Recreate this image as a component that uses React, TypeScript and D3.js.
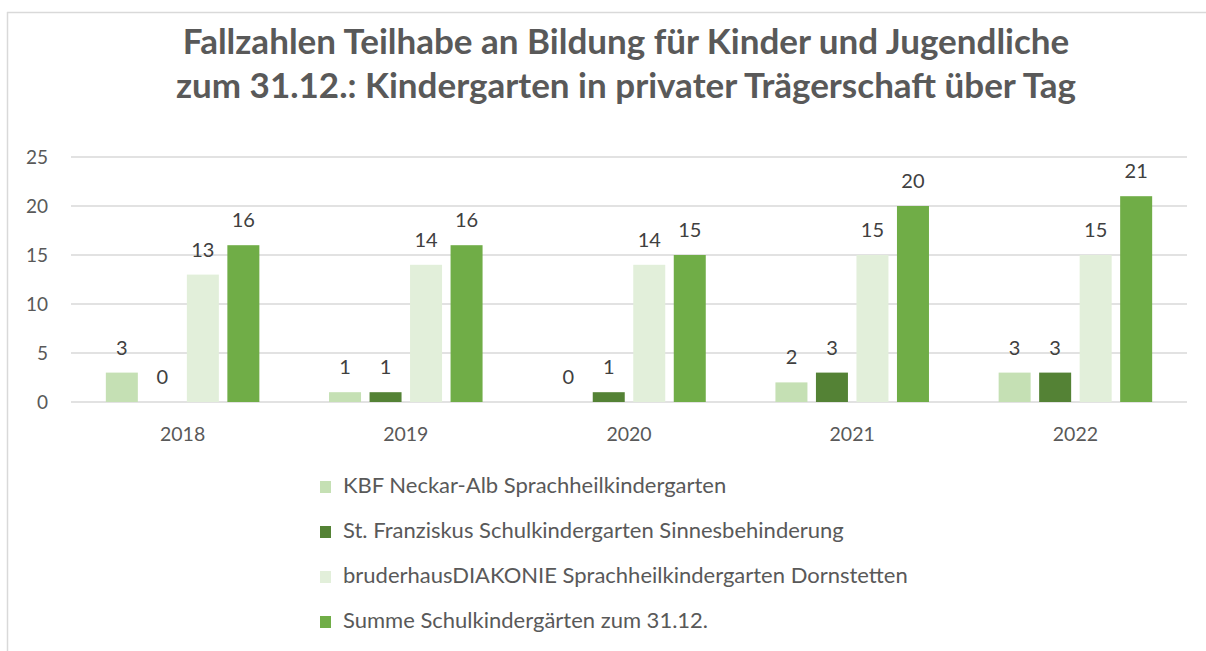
import { useEffect, useRef } from "react"
import * as d3 from "d3"

const years = ["2018", "2019", "2020", "2021", "2022"]
const seriesNames = [
  "KBF Neckar-Alb Sprachheilkindergarten",
  "St. Franziskus Schulkindergarten Sinnesbehinderung",
  "bruderhausDIAKONIE Sprachheilkindergarten Dornstetten",
  "Summe Schulkindergärten zum 31.12.",
]
const kbf = [3, 1, 0, 2, 3]
const franziskus = [0, 1, 1, 3, 3]
const bruderhaus = [13, 14, 14, 15, 15]
const summe = [16, 16, 15, 20, 21]
const yTicks = [0, 5, 10, 15, 20, 25]
const colors = ["#C5E0B4", "#548235", "#E2EFDA", "#70AD47"]
const titleLines = [
  "Fallzahlen Teilhabe an Bildung für Kinder und Jugendliche",
  "zum 31.12.: Kindergarten in privater Trägerschaft über Tag",
]

const W = 1206
const H = 651
const font = "Lato, 'Noto Sans', sans-serif"
const textColor = "#595959"

const App = () => {
  const ref = useRef<SVGSVGElement>(null)

  useEffect(() => {
    const svg = d3.select(ref.current)
    svg.selectAll("*").remove()

    const series = [kbf, franziskus, bruderhaus, summe]

    // frame of the chart
    svg.append("line").attr("x1", 7.5).attr("x2", 7.5).attr("y1", 12).attr("y2", H)
      .attr("stroke", "#D9D9D9").attr("stroke-width", 1.5)
    svg.append("line").attr("x1", 7).attr("x2", W).attr("y1", 12.5).attr("y2", 12.5)
      .attr("stroke", "#D9D9D9").attr("stroke-width", 1.5)

    svg.append("g").selectAll("text").data(titleLines).join("text")
      .attr("x", 626).attr("y", (d, i) => 54 + i * 44)
      .attr("text-anchor", "middle")
      .attr("font-family", font).attr("font-weight", "bold")
      .attr("font-size", 35).attr("fill", textColor)
      .text(d => d)

    const left = 71, right = 1187, top = 157, bottom = 402
    const x0 = d3.scaleBand().domain(years).range([left, right])
    const x1 = d3.scaleBand<number>().domain([0, 1, 2, 3])
      .range([0, x0.bandwidth()]).paddingInner(0.21).paddingOuter(0.86)
    const y = d3.scaleLinear().domain([0, 25]).range([bottom, top])

    svg.append("g").selectAll("line").data(yTicks).join("line")
      .attr("x1", left).attr("x2", right)
      .attr("y1", d => y(d)).attr("y2", d => y(d))
      .attr("stroke", "#D9D9D9").attr("stroke-width", 1.5)

    svg.append("g").selectAll("text").data(yTicks).join("text")
      .attr("x", 48).attr("y", d => y(d) + 7)
      .attr("text-anchor", "end")
      .attr("font-family", font).attr("font-size", 19).attr("fill", textColor)
      .text(d => d)

    svg.append("g").selectAll("text").data(years).join("text")
      .attr("x", d => x0(d)! + x0.bandwidth() / 2).attr("y", 441)
      .attr("text-anchor", "middle")
      .attr("font-family", font).attr("font-size", 19.5).attr("fill", textColor)
      .text(d => d)

    const groups = svg.append("g").selectAll("g").data(years).join("g")
      .attr("transform", d => `translate(${x0(d)},0)`)

    const cells = groups.selectAll("g").data((d, yi) => series.map((s, si) => ({ si, v: s[yi] })))
      .join("g")

    cells.append("rect")
      .attr("x", d => x1(d.si)!)
      .attr("width", x1.bandwidth())
      .attr("y", d => y(d.v))
      .attr("height", d => bottom - y(d.v))
      .attr("fill", d => colors[d.si])

    cells.append("text")
      .attr("x", d => x1(d.si)! + x1.bandwidth() / 2)
      .attr("y", d => y(d.v) - 18)
      .attr("text-anchor", "middle")
      .attr("font-family", font).attr("font-size", 20).attr("fill", "#404040")
      .text(d => d.v)

    const legend = svg.append("g").selectAll("g").data(seriesNames).join("g")
      .attr("transform", (d, i) => `translate(320,${493 + i * 45})`)
    legend.append("rect").attr("x", 0).attr("y", -12).attr("width", 11).attr("height", 12)
      .attr("fill", (d, i) => colors[i])
    legend.append("text").attr("x", 23).attr("y", 0)
      .attr("font-family", font).attr("font-size", 22).attr("fill", textColor)
      .text(d => d)
  })

  return (
    <svg ref={ref} width={W} height={H} style={{ position: "absolute", left: 0, top: 0, background: "#fff" }} />
  )
}

export default App
